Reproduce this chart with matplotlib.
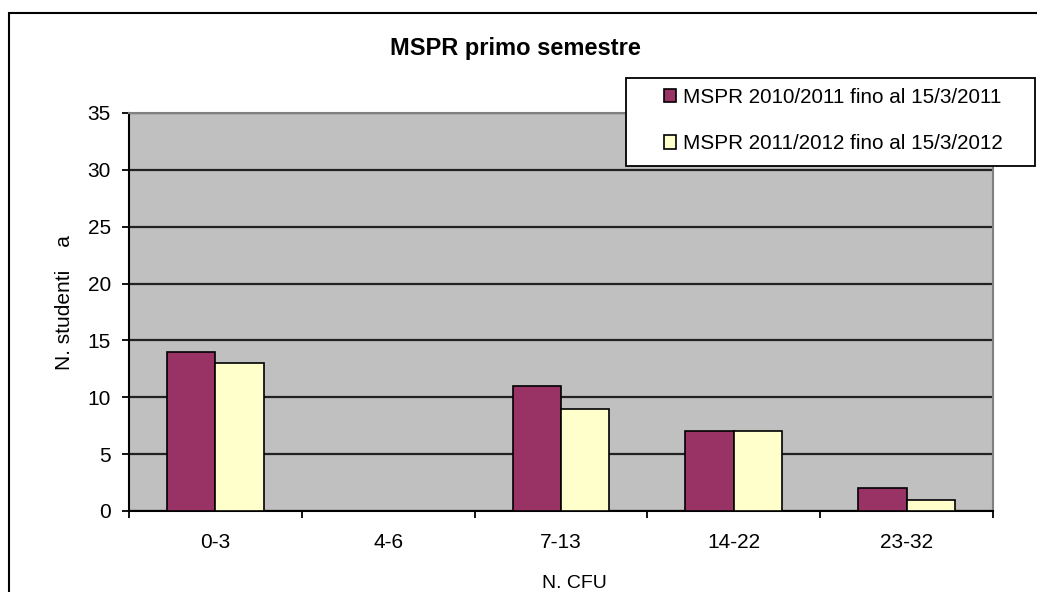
import numpy as np
import matplotlib.pyplot as plt
from matplotlib.patches import Rectangle

plt.rcParams['font.family'] = ['Liberation Sans', 'DejaVu Sans']

categories = ["0-3", "4-6", "7-13", "14-22", "23-32"]
mspr_2011 = [14, 0, 11, 7, 2]
mspr_2012 = [13, 0, 9, 7, 1]
series_labels = ["MSPR 2010/2011 fino al 15/3/2011", "MSPR 2011/2012 fino al 15/3/2012"]


def main():
    W, H = 1037, 592
    fig = plt.figure(figsize=(W / 100, H / 100), dpi=100)

    # outer chart border (runs off the right and bottom edges)
    fig.patches.append(Rectangle((9 / W, -0.05), 1.2, (H - 13) / H + 0.05,
                                 transform=fig.transFigure, fill=False,
                                 edgecolor="black", linewidth=1.5))

    ax = fig.add_axes([129 / W, 1 - 511 / H, 864 / W, 398 / H])
    ax.set_facecolor("#C0C0C0")

    x = np.arange(len(categories))
    w = 0.28
    ax.bar(x - w / 2, mspr_2011, w, color="#993366", edgecolor="black",
           linewidth=1.2, label=series_labels[0], zorder=3)
    ax.bar(x + w / 2, mspr_2012, w, color="#FFFFCC", edgecolor="black",
           linewidth=1.2, label=series_labels[1], zorder=3)

    ax.set_xlim(-0.5, len(categories) - 0.5)
    ax.set_ylim(0, 35)
    ax.set_yticks(np.arange(0, 36, 5))
    ax.yaxis.grid(True, color="#222222", linewidth=1.6, zorder=1)
    ax.set_axisbelow(True)

    ax.set_xticks(x)
    ax.set_xticklabels(categories)
    ax.set_xticks(np.arange(-0.5, len(categories)), minor=True)
    ax.tick_params(axis="x", which="major", length=0, pad=16, labelsize=15)
    ax.tick_params(axis="x", which="minor", length=5, width=1.3, direction="out")
    ax.tick_params(axis="y", length=5, width=1.3, direction="out", pad=8, labelsize=15)

    for side in ["left", "bottom"]:
        ax.spines[side].set_color("black")
        ax.spines[side].set_linewidth(1.5)
    for side in ["top", "right"]:
        ax.spines[side].set_color("#808080")
        ax.spines[side].set_linewidth(1.5)

    fig.text(515 / W, 1 - 49 / H, "MSPR primo semestre", ha="center", va="center",
             fontsize=17, fontweight="bold")
    fig.text(65 / W, 1 - 303 / H, "N. studenti    a", rotation=90, ha="center",
             va="center", fontsize=15)
    fig.text(574 / W, 1 - 583 / H, "N. CFU", ha="center", va="center", fontsize=14)

    # legend frame drawn by hand, entries placed inside it
    fig.patches.append(Rectangle((626 / W, 1 - 166 / H), 409 / W, 88 / H,
                                 transform=fig.transFigure, facecolor="white",
                                 edgecolor="black", linewidth=1.3, zorder=9))
    leg = fig.legend(loc="upper left", bbox_to_anchor=(664 / W, 1 - 88 / H),
                     bbox_transform=fig.transFigure, fontsize=14.9,
                     frameon=False, handlelength=0.6, handleheight=0.6,
                     handletextpad=0.3, labelspacing=1.32, borderpad=0,
                     borderaxespad=0)
    leg.set_zorder(10)

    fig.savefig("out.png", dpi=100)


if __name__ == "__main__":
    main()
